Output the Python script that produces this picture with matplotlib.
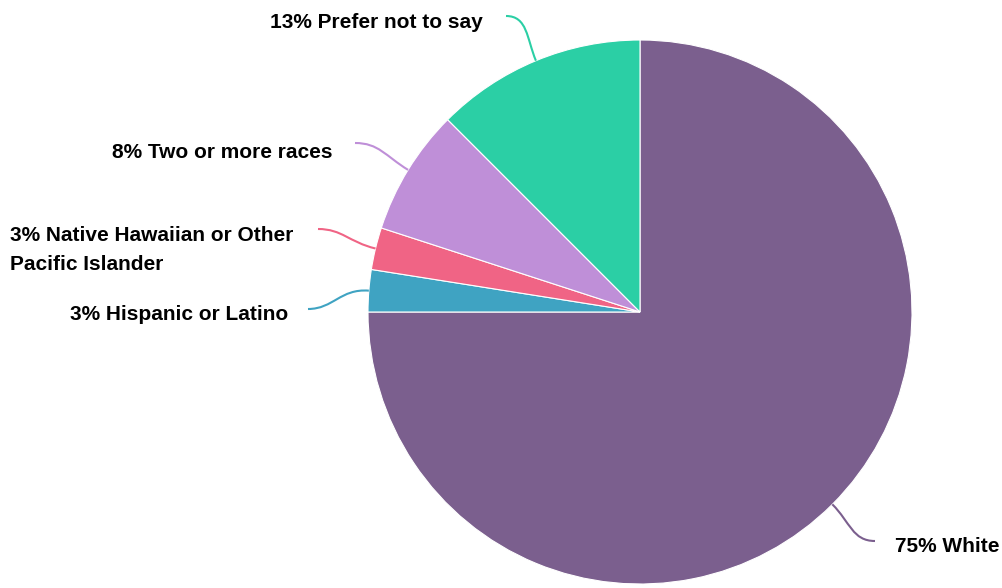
import numpy as np
import matplotlib
import matplotlib.pyplot as plt
from matplotlib.path import Path
from matplotlib.patches import PathPatch

matplotlib.use("Agg")
plt.rcParams["font.family"] = ["Liberation Sans", "DejaVu Sans"]

# ── Datos ─────────────────────────────────────────────
categories = ["White", "Hispanic or Latino", "Native Hawaiian or Other\nPacific Islander",
              "Two or more races", "Prefer not to say"]
counts = [30, 1, 1, 3, 5]
pct_labels = ["75%", "3%", "3%", "8%", "13%"]
colors = ["#7B5F8E", "#3FA3C2", "#F06485", "#BF8FD8", "#2BCFA5"]

# layout en pixeles (y hacia abajo)
W, H = 1003, 588
cx, cy, R = 640, 312, 272
# fin de la linea guia y alineacion del texto
label_end = [(875, 541), (308, 309), (318, 229), (355, 143), (506, 16)]
text_pos = [(895, 547, "left"), (288, 315, "right"), (10, 250, "leftblock"),
            (333, 152, "right"), (483, 23, "right")]
FS = 15

fig = plt.figure(figsize=(W / 100, H / 100), dpi=100)
ax = fig.add_axes([0, 0, 1, 1])

wedges, _ = ax.pie(counts, colors=colors, startangle=90, counterclock=False,
                   center=(cx, H - cy), radius=R, frame=True,
                   wedgeprops=dict(edgecolor="white", linewidth=0.8))
ax.set_xlim(0, W)
ax.set_ylim(0, H)
ax.set_aspect("equal")
ax.axis("off")

# ── Lineas guia curvas + etiquetas ────────────────────
for w, col, (ex, ey), (tx, ty, al), cat, pct in zip(
        wedges, colors, label_end, text_pos, categories, pct_labels):
    mid = np.deg2rad((w.theta1 + w.theta2) / 2)
    dx, dy = np.cos(mid), np.sin(mid)
    p0 = (cx + R * dx, H - cy + R * dy)
    p3 = (ex, H - ey)
    dist = np.hypot(p3[0] - p0[0], p3[1] - p0[1])
    p1 = (p0[0] + dx * dist * 0.45, p0[1] + dy * dist * 0.45)
    side = 1 if p3[0] < p0[0] else -1
    p2 = (p3[0] + side * dist * 0.4, p3[1])
    path = Path([p0, p1, p2, p3], [Path.MOVETO, Path.CURVE4, Path.CURVE4, Path.CURVE4])
    ax.add_patch(PathPatch(path, facecolor="none", edgecolor=col, lw=1.5))

    txt = f"{pct} {cat}"
    if al == "leftblock":
        ax.text(tx, H - ty, txt, ha="left", va="center", fontsize=FS,
                fontweight="bold", linespacing=1.72, multialignment="left")
    else:
        ax.text(tx, H - ty, txt, ha=al, va="center", fontsize=FS, fontweight="bold")

fig.savefig("out.png", dpi=100)
